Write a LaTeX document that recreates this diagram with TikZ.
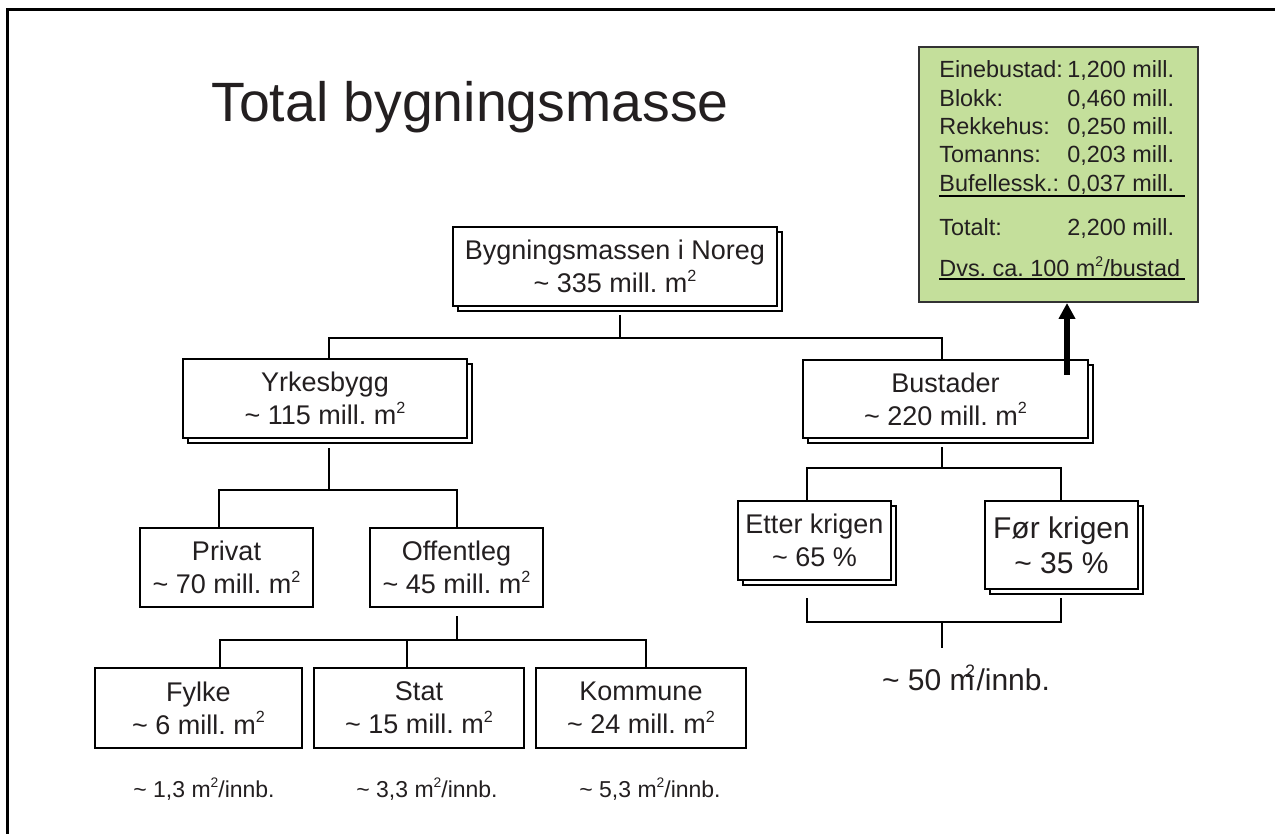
\documentclass[tikz,border=0pt]{standalone}
\usepackage{fontspec}
\usepackage{graphicx}
\setmainfont{Liberation Sans}
\usetikzlibrary{shadows,arrows.meta,calc}
\definecolor{txt}{HTML}{231F20}
\definecolor{boxgreen}{HTML}{C4DF9B}
\definecolor{greenline}{HTML}{333333}
\frenchspacing
\newcommand\mytilde{\textasciitilde}
\newcommand\suptwo{\raisebox{0.42em}{\scalebox{0.6}{2}}}
\newcommand\msq{m\suptwo}
\begin{document}
\frenchspacing
\begin{tikzpicture}[x=0.5pt,y=-0.5pt,
  every node/.style={text=txt},
  box/.style={draw=black, line width=1pt, fill=white, rectangle, inner sep=0pt,
    align=center, font=\fontsize{13.5}{16.5}\selectfont},
  shbox/.style={box, copy shadow={shadow xshift=2.5pt, shadow yshift=-2.5pt,
    draw=black, fill=white, line width=0.8pt}},
  conn/.style={draw=black, line width=1pt},
  gtext/.style={anchor=base west, inner sep=0pt, font=\fontsize{11.7}{14}\selectfont},
  perinn/.style={anchor=base, inner sep=0pt, font=\fontsize{11.5}{14}\selectfont}]
\useasboundingbox (0,0) rectangle (1275,834);
\fill[white] (0,0) rectangle (1275,834);
% frame
\draw[line width=1.5pt] (7,834) -- (7,10) -- (1275,10);
% title
\node[anchor=base, inner sep=0pt, font=\fontsize{27.7}{33}\selectfont] (title) at (470,122) {Total bygningsmasse};
% boxes
\node[shbox, minimum width=162pt, minimum height=39.5pt] (root) at (615,266.5) {Bygningsmassen i Noreg\\\mytilde{} 335 mill. \msq};
\node[shbox, minimum width=142pt, minimum height=39.5pt] (yrk) at (325,398.5) {Yrkesbygg\\\mytilde{} 115 mill. \msq};
\node[shbox, minimum width=142.5pt, minimum height=39pt] (bus) at (945.5,399) {Bustader\\\mytilde{} 220 mill. \msq};
\node[box, minimum width=86.5pt, minimum height=39.5pt] (priv) at (226.5,567.5) {Privat\\\mytilde{} 70 mill. \msq};
\node[box, minimum width=86.5pt, minimum height=39.5pt] (off) at (456.5,567.5) {Offentleg\\\mytilde{} 45 mill. \msq};
\node[box, minimum width=103.5pt, minimum height=40pt] (fyl) at (198.5,708) {Fylke\\\mytilde{} 6 mill. \msq};
\node[box, minimum width=105pt, minimum height=40pt] (stat) at (419,708) {Stat\\\mytilde{} 15 mill. \msq};
\node[box, minimum width=105pt, minimum height=40pt] (kom) at (641,708) {Kommune\\\mytilde{} 24 mill. \msq};
\node[shbox, minimum width=76.5pt, minimum height=39.5pt] (etter) at (814.5,540.5) {Etter krigen\\\mytilde{} 65 \%};
\node[shbox, minimum width=76.5pt, minimum height=44pt, font=\fontsize{15}{17.5}\selectfont] (for) at (1061.5,545) {Før krigen\\\mytilde{} 35 \%};
% per-inhabitant labels
\node[perinn] (p1) at (204,797) {\mytilde{} 1,3 \msq/innb.};
\node[perinn] (p2) at (427,797) {\mytilde{} 3,3 \msq/innb.};
\node[perinn] (p3) at (650,797) {\mytilde{} 5,3 \msq/innb.};
\node[anchor=base, inner sep=0pt, font=\fontsize{15}{18}\selectfont] (p4) at (966,690) {\mytilde{} 50 m\kern-0.32em\suptwo\kern0.05em/innb.};
% green box
\node[draw=greenline, line width=1pt, fill=boxgreen, minimum width=139.5pt, minimum height=127.5pt, inner sep=0pt] (green) at (1058.5,174.5) {};
\node[gtext] (l1) at (939,78) {Einebustad:};
\node[gtext] (v1) at (1067,78) {1,200 mill.};
\node[gtext] (l2) at (939,107) {Blokk:};
\node[gtext] (v2) at (1067,107) {0,460 mill.};
\node[gtext] (l3) at (939,134.5) {Rekkehus:};
\node[gtext] (v3) at (1067,134.5) {0,250 mill.};
\node[gtext] (l4) at (939,163) {Tomanns:};
\node[gtext] (v4) at (1067,163) {0,203 mill.};
\node[gtext] (l5) at (939,191.5) {Bufellessk.:};
\node[gtext] (v5) at (1067,191.5) {0,037 mill.};
\node[gtext] (l6) at (939,235.5) {Totalt:};
\node[gtext] (v6) at (1067,235.5) {2,200 mill.};
\node[gtext] (l7) at (939,276.5) {Dvs. ca. 100 \msq/bustad};
\draw[line width=1pt] (l5.base west) ++(0,4.5) -- ++(246,0);
\draw[line width=1pt] (l7.base west) ++(0,3) -- ++(246,0);
% connectors: root to level 1
\coordinate (j0) at (620,338);
\coordinate (jy) at (329,338);
\coordinate (jb) at (942,338);
\draw[conn] ($(root.south -| j0)+(0,8)$) -- (j0);
\draw[conn] (jy |- yrk.north) -- (jy) -- (jb) -- (jb |- bus.north);
% Yrkesbygg to level 2
\coordinate (jy2) at (329,490);
\coordinate (jp) at (219,490);
\coordinate (jo) at (457,490);
\draw[conn] ($(jy2 |- yrk.south)+(0,9)$) -- (jy2);
\draw[conn] (jp |- priv.north) -- (jp) -- (jo) -- (jo |- off.north);
% Offentleg to level 3
\coordinate (jo3) at (457,640);
\coordinate (jf) at (220,640);
\coordinate (js) at (407,640);
\coordinate (jk) at (646,640);
\draw[conn] ($(jo3 |- off.south)+(0,8)$) -- (jo3);
\draw[conn] (jf |- fyl.north) -- (jf) -- (jk) -- (jk |- kom.north);
\draw[conn] (js) -- (js |- stat.north);
% Bustader to level 2
\coordinate (jb2) at (942,468);
\coordinate (je) at (807,468);
\coordinate (jr) at (1061,468);
\draw[conn] ($(jb2 |- bus.south)+(0,8)$) -- (jb2);
\draw[conn] (je |- etter.north) -- (je) -- (jr) -- (jr |- for.north);
% below Etter / Foer
\coordinate (je2) at (807,622);
\coordinate (jr2) at (1061,622);
\coordinate (jm) at (942,622);
\coordinate (jm2) at (942,648);
\draw[conn] ($(je2 |- etter.south)+(0,17)$) -- (je2) -- (jr2) -- ($(jr2 |- for.south)+(0,8)$);
\draw[conn] (jm) -- (jm2);
% arrow to green box
\coordinate (af) at (1067,375);
\draw[line width=3pt, -{Triangle[width=8pt,length=8pt]}] (af) -- (af |- green.south);
\end{tikzpicture}
\end{document}
